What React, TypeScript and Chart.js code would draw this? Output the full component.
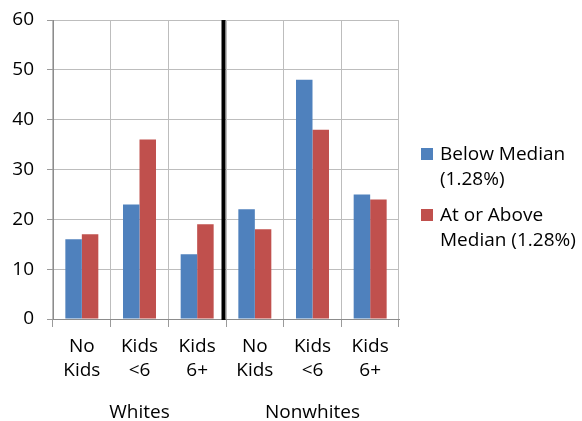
import React, { useEffect, useRef } from "react";
import { Chart, registerables } from "chart.js";

Chart.register(...registerables);

const categories: string[][] = [
  ["No", "Kids"],
  ["Kids", "<6"],
  ["Kids", "6+"],
  ["No", "Kids"],
  ["Kids", "<6"],
  ["Kids", "6+"],
];
const groups: string[] = ["Whites", "Nonwhites"];
const belowMedian: number[] = [16, 23, 13, 22, 48, 25];
const aboveMedian: number[] = [17, 36, 19, 18, 38, 24];
const legendLines: string[][] = [
  ["Below Median", "(1.28%)"],
  ["At or Above", "Median (1.28%)"],
];
const yMin = 0;
const yMax = 60;
const yStep = 10;

const FONT = "'Open Sans', sans-serif";
const FONT_SIZE = 19;
const BLUE = "#4F81BD";
const RED = "#C0504D";

export default function App() {
  const ref = useRef<HTMLCanvasElement>(null);

  useEffect(() => {
    if (!ref.current) return;

    const dividerPlugin = {
      id: "divider",
      afterDatasetsDraw(chart: any) {
        const ctx = chart.ctx;
        const x = chart.scales.x;
        const area = chart.chartArea;
        const px = (x.getPixelForValue(2) + x.getPixelForValue(3)) / 2;
        ctx.save();
        ctx.fillStyle = "#000";
        ctx.fillRect(px - 4.5, area.top, 4, area.bottom - area.top + 1);
        ctx.restore();
      },
    };

    const sideLegend = {
      id: "sideLegend",
      afterDraw(chart: any) {
        const ctx = chart.ctx;
        ctx.save();
        ctx.font = `${FONT_SIZE}px ${FONT}`;
        ctx.textAlign = "left";
        ctx.textBaseline = "alphabetic";
        const bases = [160, 221];
        chart.data.datasets.forEach((ds: any, i: number) => {
          const base = bases[i];
          ctx.fillStyle = ds.backgroundColor;
          ctx.fillRect(421, base - 12, 12, 12);
          ctx.fillStyle = "#000";
          legendLines[i].forEach((line, j) => {
            ctx.fillText(line, 440, base + j * 25);
          });
        });
        ctx.restore();
      },
    };

    const chart = new Chart(ref.current, {
      type: "bar",
      data: {
        labels: categories,
        datasets: [
          {
            label: legendLines[0].join(" "),
            data: belowMedian,
            backgroundColor: BLUE,
            categoryPercentage: 0.572,
            barPercentage: 1,
          },
          {
            label: legendLines[1].join(" "),
            data: aboveMedian,
            backgroundColor: RED,
            categoryPercentage: 0.572,
            barPercentage: 1,
          },
        ],
      },
      options: {
        animation: false,
        responsive: false,
        layout: { padding: { top: 20, right: 183, left: 0, bottom: 0 } },
        plugins: {
          legend: { display: false },
          tooltip: { enabled: false },
        },
        scales: {
          x: {
            type: "category",
            position: "bottom",
            weight: 0,
            grid: {
              display: true,
              offset: true,
              color: "#bdbdbd",
              tickLength: 8,
              tickColor: "#9a9a9a",
            },
            border: { display: true, color: "#8c8c8c" },
            ticks: {
              color: "#000",
              font: { family: FONT, size: FONT_SIZE, lineHeight: 1.28 },
              padding: 7,
              maxRotation: 0,
              autoSkip: false,
            },
            afterFit(scale: any) {
              scale.height = 68;
              scale.paddingLeft = 0;
              scale.paddingRight = 0;
            },
          },
          x2: {
            type: "category",
            position: "bottom",
            weight: 1,
            labels: groups,
            offset: true,
            grid: { display: false },
            border: { display: false },
            ticks: {
              color: "#000",
              font: { family: FONT, size: FONT_SIZE },
              padding: 6,
              maxRotation: 0,
            },
            afterFit(scale: any) {
              scale.height = 34;
              scale.paddingLeft = 0;
              scale.paddingRight = 0;
            },
          },
          y: {
            min: yMin,
            max: yMax,
            ticks: {
              stepSize: yStep,
              color: "#000",
              font: { family: FONT, size: FONT_SIZE },
              padding: 13,
            },
            grid: {
              color: "#bdbdbd",
              tickLength: 6,
              tickColor: "#9a9a9a",
            },
            border: { display: true, color: "#8c8c8c" },
            afterFit(scale: any) {
              scale.width = 53;
              scale.paddingTop = 0;
              scale.paddingBottom = 0;
            },
          },
        },
      },
      plugins: [dividerPlugin, sideLegend],
    } as any);

    return () => chart.destroy();
  }, []);

  return (
    <div style={{ position: "absolute", left: 0, top: 0, width: 582, height: 421, background: "#fff" }}>
      <canvas ref={ref} width={582} height={421} style={{ width: 582, height: 421, display: "block" }} />
    </div>
  );
}
